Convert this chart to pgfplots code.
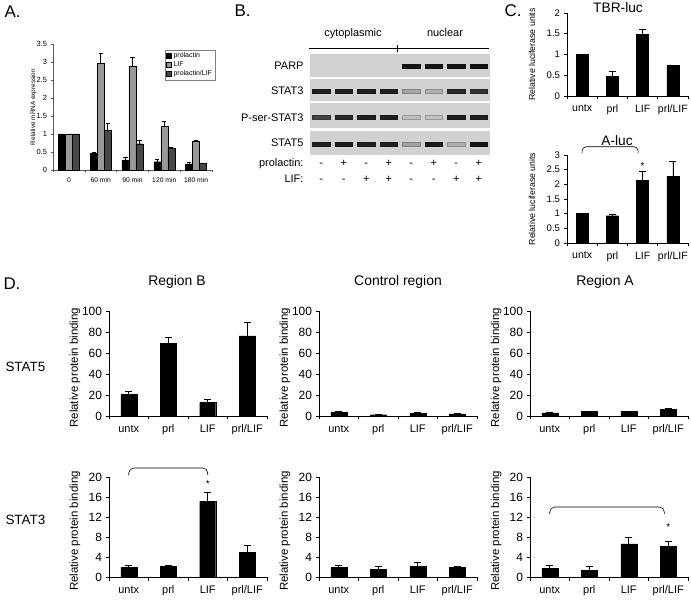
\documentclass[border=0pt]{standalone}
\usepackage{fontspec}
\setmainfont{Liberation Sans}
\usepackage{pgfplots}
\usepackage{pgfplotstable}
\pgfplotsset{compat=1.18}
\newcommand{\fsz}[1]{\fontsize{#1}{#1}\selectfont}

% ---------- Panel A ----------
\pgfplotstableread{
x prl prle lif life pl ple
0 1.00 0    1.00 0    1.00 0
1 0.46 0.03 2.96 0.28 1.11 0.20
2 0.28 0.08 2.88 0.26 0.73 0.10
3 0.23 0.06 1.22 0.14 0.60 0.02
4 0.17 0.04 0.80 0.02 0.18 0.01
}\tabA
% ---------- Panel C ----------
\pgfplotstableread{
x y e
0 1.00 0
1 0.47 0.12
2 1.48 0.13
3 0.73 0.02
}\tabTBR
\pgfplotstableread{
x y e
0 1.00 0
1 0.93 0.03
2 2.14 0.29
3 2.28 0.49
}\tabAluc
% ---------- Panel D ----------
\pgfplotstableread{
x y e
0 20.6 2.9
1 68.9 6.3
2 13.0 2.9
3 76.2 13.3
}\tabBfive
\pgfplotstableread{
x y e
0 3.8 0.3
1 1.2 0.2
2 2.8 0.3
3 2.0 0.2
}\tabCfive
\pgfplotstableread{
x y e
0 3.0 0.3
1 4.2 0.6
2 4.3 0.6
3 6.2 0.8
}\tabAfive
\pgfplotstableread{
x y e
0 2.00 0.40
1 2.13 0.20
2 15.2 1.70
3 4.90 1.40
}\tabBthree
\pgfplotstableread{
x y e
0 1.87 0.53
1 1.53 0.53
2 2.20 0.80
3 1.87 0.20
}\tabCthree
\pgfplotstableread{
x y e
0 1.74 0.52
1 1.35 0.78
2 6.65 1.29
3 6.13 1.03
}\tabAthree
% ---------- Panel B (blot band intensities) ----------
\pgfplotstableread{
x y c
5 -66 0.95
6 -66 0.95
7 -66 0.95
8 -66 0.97
1 -91 0.90
2 -91 0.90
3 -91 0.90
4 -91 0.90
5 -91 0.20
6 -91 0.15
7 -91 0.85
8 -91 0.80
1 -117 0.72
2 -117 0.85
3 -117 0.90
4 -117 0.90
5 -117 0.08
6 -117 0.06
7 -117 0.90
8 -117 0.90
1 -144 0.90
2 -144 0.92
3 -144 0.90
4 -144 0.90
5 -144 0.22
6 -144 0.92
7 -144 0.15
8 -144 0.95
}\tabBlot

\pgfplotsset{
  /pgf/number format/assume math mode=true,
  panel/.style={
    scale only axis, anchor=south west, clip=false,
    axis x line=bottom, axis y line=left,
    axis line style={-, black, line width=0.8bp},
    tick align=outside, major tick length=3.5bp, minor tick length=3.5bp,
    tick style={black, line width=0.8bp},
    major x tick style={draw=none},
    xmin=-0.5, xmax=3.5, xtick={0,1,2,3},
    xticklabels={untx,prl,LIF,prl/LIF},
    minor xtick={-0.5,0.5,1.5,2.5,3.5},
    ymin=0, ybar,
  },
  dpanel/.style={panel, width=158bp, bar width=16bp,
    yticklabel style={font=\fsz{12}},
    xticklabel style={font=\fsz{11}, yshift=-2bp},
    ylabel={Relative protein binding},
    every axis y label/.style={at={(rel axis cs:-0.215,0.46)}, rotate=90, anchor=center, font=\fsz{11.5}},
  },
  row1/.style={dpanel, height=105bp, ymax=100, ytick={0,20,40,60,80,100}},
  row2/.style={dpanel, height=100bp, ymax=20, ytick={0,4,8,12,16,20}},
  cpanel/.style={panel, width=121bp, bar width=12bp,
    yticklabel style={font=\fsz{9.6}},
    xticklabel style={font=\fsz{10.6}, yshift=-2bp},
    ylabel={Relative luciferase units},
    every axis y label/.style={at={(rel axis cs:-0.29,0.5)}, rotate=90, anchor=center, font=\fsz{8.8}},
  },
  blackbar/.style={fill=black, draw=black,
    error bars/y dir=plus, error bars/y explicit,
    error bars/error bar style={line width=0.7bp, black},
    error bars/error mark options={rotate=90, line width=0.7bp, mark size=3.5bp, black}},
  abar/.style={draw=black, line width=0.3bp,
    error bars/y dir=plus, error bars/y explicit,
    error bars/error bar style={line width=0.5bp, black},
    error bars/error mark options={rotate=90, line width=0.5bp, mark size=2bp, black}},
}

\begin{document}
\begin{tikzpicture}
\useasboundingbox (0,0) rectangle (691bp,601bp);

% ================= Panel A =================
\begin{axis}[panel, at={(53bp,431bp)}, width=159bp, height=126bp,
  ybar=0pt, bar width=7bp,
  xmin=-0.5, xmax=4.5, xtick={0,1,2,3,4},
  xticklabels={0,60 min,90 min,120 min,180 min},
  minor xtick={-0.5,0.5,1.5,2.5,3.5,4.5},
  ymax=3.5, ytick={0,0.5,1,1.5,2,2.5,3,3.5},
  axis line style={-, gray!70!black, line width=0.5bp},
  tick style={gray!70!black, line width=0.5bp},
  major tick length=2.5bp, minor tick length=2.5bp,
  yticklabel style={font=\fsz{7.5}},
  xticklabel style={font=\fsz{6.8}, yshift=-1.5bp},
  ylabel={Relative mRNA expression},
  every axis y label/.style={at={(rel axis cs:-0.123,0.5)}, rotate=90, anchor=center, font=\fsz{6.4}},
  legend style={at={(rel axis cs:1.02,0.955)}, anchor=north east, font=\fsz{7},
    draw=gray, line width=0.4bp, inner sep=1bp, row sep=-1.5bp},
  legend cell align=left,
  legend image code/.code={\draw[#1, draw=black, line width=0.3bp] (0bp,-2.5bp) rectangle (5bp,2.5bp);},
]
\addplot[abar, fill=black] table[x=x, y=prl, y error=prle] {\tabA};
\addplot[abar, fill=gray!80] table[x=x, y=lif, y error=life] {\tabA};
\addplot[abar, fill=black!72] table[x=x, y=pl, y error=ple] {\tabA};
\legend{prolactin,LIF,prolactin/LIF}
\end{axis}
\node[anchor=base west, font=\fsz{17}] at (1bp,583bp) {A.};

% ================= Panel B =================
\node[anchor=base west, font=\fsz{17}] at (231bp,584bp) {B.};
\begin{axis}[scale only axis, anchor=south west, at={(310bp,446bp)},
  width=180bp, height=101bp, xmin=0.5, xmax=8.5, ymin=-155, ymax=-54,
  hide axis, clip=false,
  colormap={blot}{gray(0cm)=(0.80); gray(1cm)=(0.05)},
  point meta min=0, point meta max=1]
\addplot[fill=black!18, draw=none] coordinates {(0.5,-77) (8.5,-77) (8.5,-54) (0.5,-54)} -- cycle;
\addplot[fill=black!18, draw=none] coordinates {(0.5,-101.5) (8.5,-101.5) (8.5,-79) (0.5,-79)} -- cycle;
\addplot[fill=black!18, draw=none] coordinates {(0.5,-128.5) (8.5,-128.5) (8.5,-103.5) (0.5,-103.5)} -- cycle;
\addplot[fill=black!18, draw=none] coordinates {(0.5,-155) (8.5,-155) (8.5,-131) (0.5,-131)} -- cycle;
\addplot[scatter, only marks, mark=square*, mark size=2.1bp,
  mark options={xscale=4.2}, scatter src=explicit]
  table[x=x, y=y, meta=c] {\tabBlot};
\end{axis}
\begin{scope}[font=\fsz{11}]
\node[anchor=base] at (353bp,564bp) {cytoplasmic};
\node[anchor=base] at (445bp,564bp) {nuclear};
\draw[line width=0.6bp] (309bp,553bp) -- (489bp,553bp);
\draw[line width=0.6bp] (397bp,549bp) -- (397bp,556bp);
\node[anchor=base east] at (307bp,531bp) {PARP};
\node[anchor=base east] at (307bp,506bp) {STAT3};
\node[anchor=base east] at (307bp,479bp) {P-ser-STAT3};
\node[anchor=base east] at (307bp,454bp) {STAT5};
\node[anchor=base east] at (307bp,434bp) {prolactin:};
\node[anchor=base east] at (307bp,418bp) {LIF:};
\foreach \s [count=\i from 0] in {-,+,-,+,-,+,-,+}
  \node[anchor=base] at ({321.25bp+22.5bp*\i},434bp) {\s};
\foreach \s [count=\i from 0] in {-,-,+,+,-,-,+,+}
  \node[anchor=base] at ({321.25bp+22.5bp*\i},418bp) {\s};
\end{scope}

% ================= Panel C =================
\node[anchor=base west, font=\fsz{17}] at (501bp,584bp) {C.};
\node[anchor=base, font=\fsz{13.8}] at (618bp,588bp) {TBR-luc};
\begin{axis}[cpanel, at={(567bp,505bp)}, height=83bp,
  ymax=2, ytick={0,0.5,1,1.5,2}]
\addplot[blackbar] table[x=x, y=y, y error=e] {\tabTBR};
\end{axis}
\node[anchor=base, font=\fsz{13.8}] at (617bp,455bp) {A-luc};
\begin{axis}[cpanel, at={(567bp,358bp)}, height=88bp,
  ymax=3, ytick={0,0.5,1,1.5,2,2.5,3}]
\addplot[blackbar] table[x=x, y=y, y error=e] {\tabAluc};
\draw[line width=0.6bp, rounded corners=4bp] (axis cs:0,3.07) -- (axis cs:0,3.28) -- (axis cs:1.85,3.28) -- (axis cs:1.85,3.07);
\node[font=\fsz{10}] at (axis cs:2,2.62) {*};
\end{axis}

% ================= Panel D =================
\node[anchor=base west, font=\fsz{17}] at (0bp,311bp) {D.};
\node[anchor=base, font=\fsz{14}] at (177bp,315bp) {Region B};
\node[anchor=base, font=\fsz{14}] at (398bp,315bp) {Control region};
\node[anchor=base, font=\fsz{14}] at (605bp,315bp) {Region A};
\node[anchor=base west, font=\fsz{13.5}] at (2bp,229bp) {STAT5};
\node[anchor=base west, font=\fsz{13.5}] at (2bp,76bp) {STAT3};

\begin{axis}[row1, at={(109bp,185bp)}]
\addplot[blackbar] table[x=x, y=y, y error=e] {\tabBfive};
\end{axis}
\begin{axis}[row1, at={(319bp,185bp)}]
\addplot[blackbar] table[x=x, y=y, y error=e] {\tabCfive};
\end{axis}
\begin{axis}[row1, at={(530bp,185bp)}]
\addplot[blackbar] table[x=x, y=y, y error=e] {\tabAfive};
\end{axis}

\begin{axis}[row2, at={(109bp,24bp)}]
\addplot[blackbar] table[x=x, y=y, y error=e] {\tabBthree};
\draw[line width=0.6bp, rounded corners=5bp] (axis cs:0,20.4) -- (axis cs:0,21.8) -- (axis cs:2,21.8) -- (axis cs:2,20.4);
\node[font=\fsz{10}] at (axis cs:2,18.6) {*};
\end{axis}
\begin{axis}[row2, at={(319bp,24bp)}]
\addplot[blackbar] table[x=x, y=y, y error=e] {\tabCthree};
\end{axis}
\begin{axis}[row2, at={(530bp,24bp)}]
\addplot[blackbar] table[x=x, y=y, y error=e] {\tabAthree};
\draw[line width=0.6bp, rounded corners=5bp] (axis cs:0,12.6) -- (axis cs:0,14) -- (axis cs:2.9,14) -- (axis cs:2.9,12.6);
\node[font=\fsz{10}] at (axis cs:3,10) {*};
\end{axis}
\end{tikzpicture}
\end{document}
